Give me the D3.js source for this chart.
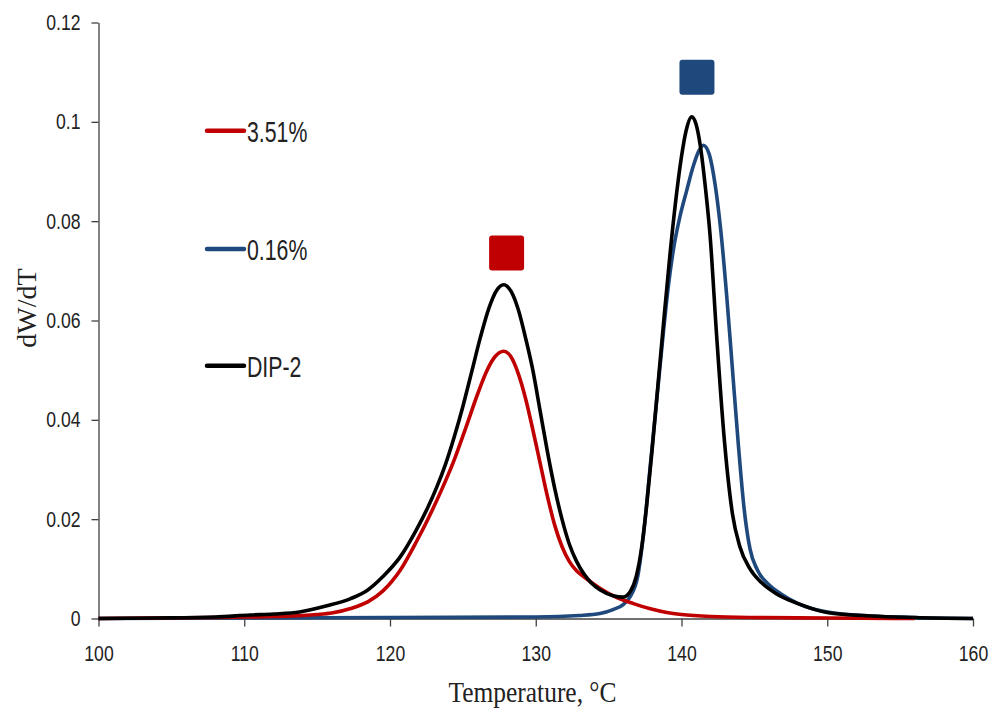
<!DOCTYPE html>
<html>
<head>
<meta charset="utf-8">
<script src="https://cdn.jsdelivr.net/npm/d3@7"></script>
<style>
  body { margin: 0; background: #fff; }
  .tick text { font-family: 'Liberation Sans', Arial, sans-serif; font-size: 22px; fill: #222; }
  .legend-text { font-family: 'Liberation Sans', Arial, sans-serif; font-size: 30px; fill: #222; }
  .axis-title { font-family: 'Liberation Serif', 'Times New Roman', serif; fill: #222; }
</style>
</head>
<body>
<svg id="chart" width="992" height="714"></svg>
<script>
// temperatures (°C) and dW/dT values for each sample
const tempRed = [100, 104, 108, 110, 112, 114, 115, 116, 117.3, 118.5, 119.5, 120.7, 121.8, 122.6, 123.6, 124.4, 125.2, 126.0, 126.6, 127.2, 127.8, 128.3, 128.8, 129.3, 129.8, 130.3, 130.8, 131.3, 131.8, 132.3, 132.8, 133.3, 133.8, 134.4, 135.5, 136.7, 137.8, 139, 140, 142, 145, 150, 156]
const valRed = [0, 0.0001, 0.0002, 0.0003, 0.0004, 0.0006, 0.0008, 0.0011, 0.0020, 0.0034, 0.0055, 0.0097, 0.0154, 0.0200, 0.0263, 0.0319, 0.0384, 0.0451, 0.0496, 0.0527, 0.0538, 0.0527, 0.0493, 0.0443, 0.0380, 0.0313, 0.0246, 0.0188, 0.0145, 0.0115, 0.0096, 0.0084, 0.0073, 0.0061, 0.0043, 0.0030, 0.0020, 0.0012, 0.0008, 0.0004, 0.0002, 0.0001, 0]

const tempBlue = [100, 110, 120, 130, 133, 134.4, 135.3, 136, 136.5, 137, 137.4, 137.85, 138.3, 138.75, 139.1, 139.44, 139.9, 140.36, 140.8, 141.2, 141.5, 141.9, 142.3, 142.7, 143.1, 143.5, 143.9, 144.3, 144.7, 145.2, 146, 146.8, 148, 150, 153, 156, 160]
const valBlue = [0, 0.0001, 0.0002, 0.0003, 0.0006, 0.0010, 0.0018, 0.0028, 0.0045, 0.0085, 0.0171, 0.0305, 0.0440, 0.0574, 0.0670, 0.0742, 0.0810, 0.0862, 0.0910, 0.0942, 0.0953, 0.0935, 0.0875, 0.0780, 0.0650, 0.0500, 0.0350, 0.0220, 0.0140, 0.0098, 0.0068, 0.0050, 0.0030, 0.0013, 0.0005, 0.0002, 0]

const tempBlack = [100, 104, 108, 110.4, 112, 113.8, 115.6, 117.3, 118.5, 119.5, 120.7, 121.8, 122.6, 123.2, 123.8, 124.4, 125.0, 125.6, 126.2, 126.8, 127.3, 127.8, 128.3, 128.8, 129.3, 129.8, 130.3, 130.8, 131.3, 131.8, 132.3, 132.8, 133.3, 133.8, 134.4, 135.3, 136, 136.5, 136.9, 137.3, 137.6, 138.0, 138.4, 138.8, 139.2, 139.6, 140.0, 140.3, 140.7, 141.0, 141.3, 141.65, 141.95, 142.4, 142.9, 143.5, 144, 144.7, 145.5, 146.5, 148, 150, 153, 156, 160]
const valBlack = [0, 0.0001, 0.0003, 0.0007, 0.0009, 0.0013, 0.0025, 0.0040, 0.0058, 0.0084, 0.0124, 0.0178, 0.0224, 0.0264, 0.0310, 0.0365, 0.0427, 0.0496, 0.0566, 0.0626, 0.0660, 0.0672, 0.0659, 0.0622, 0.0565, 0.0500, 0.0418, 0.0336, 0.0262, 0.0200, 0.0150, 0.0115, 0.0090, 0.0072, 0.0058, 0.0046, 0.0043, 0.0055, 0.0085, 0.0150, 0.0225, 0.0345, 0.0475, 0.0605, 0.0730, 0.0840, 0.0930, 0.0980, 0.1010, 0.0995, 0.0950, 0.0865, 0.0775, 0.0574, 0.0373, 0.0210, 0.0145, 0.0100, 0.0072, 0.0050, 0.0030, 0.0012, 0.0005, 0.0002, 0]

const seriesNames = ['3.51%', '0.16%', 'DIP-2']
const seriesColors = ['#C00000', '#1F497D', '#000000']

// peak markers: [temperature, dW/dT] of each square
const markerRed = [128.0, 0.0736]
const markerBlue = [141.06, 0.109]

const xTicks = [100, 110, 120, 130, 140, 150, 160]
const yTicks = [0, 0.02, 0.04, 0.06, 0.08, 0.1, 0.12]

const svg = d3.select('#chart')

const xScale = d3.scaleLinear().domain([100, 160]).range([98.5, 973])
const yScale = d3.scaleLinear().domain([0, 0.12]).range([618.5, 22.5])

/**
 * Narrows text horizontally around its anchor point.
 *
 * @param {*} sel The text selection
 * @param {number} s The horizontal scale factor
 */
function squeeze (sel, s) {
  sel.each(function () {
    const t = d3.select(this)
    const x = +t.attr('x') || 0
    const y = +t.attr('y') || 0
    t.attr('x', 0).attr('y', 0)
      .attr('transform', 'translate(' + x + ',' + y + ') scale(' + s + ',1)')
  })
}

/**
 * Draws both axes with outside ticks.
 */
function drawAxes () {
  svg.append('g')
    .attr('transform', 'translate(0,' + yScale(0) + ')')
    .call(d3.axisBottom(xScale).tickValues(xTicks).tickSize(8).tickPadding(19).tickSizeOuter(0))

  svg.append('g')
    .attr('transform', 'translate(' + xScale(100) + ',0)')
    .call(d3.axisLeft(yScale).tickValues(yTicks).tickSize(7).tickPadding(11).tickSizeOuter(0)
      .tickFormat(function (d) { return String(+d.toFixed(2)) }))

  svg.selectAll('.domain, .tick line')
    .attr('stroke', '#404040')
    .attr('stroke-width', 1.3)

  squeeze(svg.selectAll('.tick text'), 0.8)
}

/**
 * Draws one curve.
 */
function drawCurve (temps, vals, color) {
  const pts = temps.map(function (t, i) { return [t, vals[i]] })
  const line = d3.line()
    .x(function (d) { return xScale(d[0]) })
    .y(function (d) { return yScale(d[1]) })
    .curve(d3.curveMonotoneX)

  svg.append('path')
    .datum(pts)
    .attr('d', line)
    .attr('fill', 'none')
    .attr('stroke', color)
    .attr('stroke-width', 3.6)
    .attr('stroke-linejoin', 'round')
}

/**
 * Square marker centred on a data point.
 */
function drawMarker (pos, color) {
  const size = 35
  svg.append('rect')
    .attr('x', xScale(pos[0]) - size / 2)
    .attr('y', yScale(pos[1]) - size / 2)
    .attr('width', size)
    .attr('height', size)
    .attr('rx', 3)
    .attr('fill', color)
}

function drawLegend () {
  const rows = [130.7, 249, 365.7]
  const g = svg.append('g')
  seriesNames.forEach(function (name, i) {
    g.append('line')
      .attr('x1', 207).attr('x2', 244)
      .attr('y1', rows[i]).attr('y2', rows[i])
      .attr('stroke', seriesColors[i])
      .attr('stroke-width', 4.5)
      .attr('stroke-linecap', 'round')
    g.append('text')
      .attr('class', 'legend-text')
      .attr('x', 247)
      .attr('y', rows[i] + 10.8)
      .text(name)
  })
  squeeze(g.selectAll('text'), 0.71)
}

function drawTitles () {
  svg.append('text')
    .attr('class', 'axis-title')
    .attr('x', 532.5)
    .attr('y', 701.5)
    .attr('text-anchor', 'middle')
    .attr('font-size', 30)
    .attr('textLength', 168)
    .attr('lengthAdjust', 'spacingAndGlyphs')
    .text('Temperature, °C')

  svg.append('text')
    .attr('class', 'axis-title')
    .attr('transform', 'translate(36,308) rotate(-90)')
    .attr('text-anchor', 'middle')
    .attr('font-size', 28)
    .text('dW/dT')
}

drawAxes()
drawCurve(tempBlue, valBlue, seriesColors[1])
drawCurve(tempRed, valRed, seriesColors[0])
drawCurve(tempBlack, valBlack, seriesColors[2])
drawMarker(markerRed, seriesColors[0])
drawMarker(markerBlue, seriesColors[1])
drawLegend()
drawTitles()
</script>
</body>
</html>
